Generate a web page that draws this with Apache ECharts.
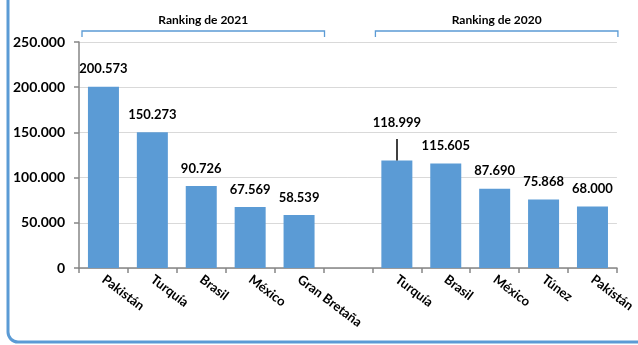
<!DOCTYPE html>
<html>
<head>
<meta charset="utf-8">
<script src="https://cdn.jsdelivr.net/npm/echarts@6/dist/echarts.min.js"></script>
<style>
  html, body { margin: 0; padding: 0; background: #fff; }
  #chart { width: 638px; height: 345px; }
</style>
</head>
<body>
<div id="chart"></div>
<script>
// Two rankings side by side, separated by an empty slot
const categories = ['Pakistán', 'Turquía', 'Brasil', 'México', 'Gran Bretaña', '',
                    'Turquía', 'Brasil', 'México', 'Túnez', 'Pakistán'];
const values = [200573, 150273, 90726, 67569, 58539, null,
                118999, 115605, 87690, 75868, 68000];
const groupTitles = ['Ranking de 2021', 'Ranking de 2020'];
// first/last category index covered by each bracket
const groupSpans = [[0, 4], [6, 10]];
const yTicks = { min: 0, max: 250000, interval: 50000 };
// leader line lifting the Turquía 2020 label
const leader = { index: 6, from: 118999, to: 142700 };

const FONT = 'Lato, "Open Sans", sans-serif';
const BLUE = '#5b9bd5';

function fmt(v) {
  return String(v).replace(/\B(?=(\d{3})+(?!\d))/g, '.');
}

const chart = echarts.init(document.getElementById('chart'));
const grid = { left: 79, right: 20, top: 42, bottom: 77 };

chart.setOption({
  animation: false,
  grid: grid,
  xAxis: {
    type: 'category',
    data: categories,
    axisLine: { lineStyle: { color: '#868686', width: 1.5 } },
    axisTick: { show: true, length: 5, lineStyle: { color: '#868686', width: 1.5 } },
    axisLabel: {
      rotate: -37,
      interval: 0,
      margin: 10,
      fontFamily: FONT,
      fontWeight: 'bold',
      fontSize: 13,
      color: '#000'
    }
  },
  yAxis: {
    type: 'value',
    min: yTicks.min,
    max: yTicks.max,
    interval: yTicks.interval,
    axisLine: { show: true, lineStyle: { color: '#868686', width: 1.5 } },
    axisTick: { show: true, length: 5, lineStyle: { color: '#868686', width: 1.5 } },
    splitLine: { lineStyle: { color: '#d9d9d9', width: 1 } },
    axisLabel: {
      margin: 14,
      fontFamily: FONT,
      fontWeight: 'bold',
      fontSize: 14,
      color: '#000',
      formatter: fmt
    }
  },
  series: [{
    type: 'bar',
    data: values.map((v, i) => ({
      value: v,
      label: i === leader.index ? { distance: 31 } : undefined
    })),
    barWidth: 31,
    itemStyle: { color: BLUE },
    label: {
      show: true,
      position: 'top',
      distance: 11,
      fontFamily: FONT,
      fontWeight: 'bold',
      fontSize: 13,
      color: '#000',
      formatter: p => fmt(p.value)
    },
    markLine: {
      silent: true,
      symbol: 'none',
      label: { show: false },
      lineStyle: { color: '#000', width: 1.5, type: 'solid' },
      data: [[
        { coord: [leader.index, leader.from] },
        { coord: [leader.index, leader.to] }
      ]]
    }
  }]
});

// Brackets over each ranking group plus the framed left border
function drawDecor() {
  const els = [];
  const half = chart.convertToPixel({ xAxisIndex: 0 }, 1) - chart.convertToPixel({ xAxisIndex: 0 }, 0);
  groupSpans.forEach((span, k) => {
    const x0 = chart.convertToPixel({ xAxisIndex: 0 }, span[0]) - half / 2 + 3;
    const x1 = chart.convertToPixel({ xAxisIndex: 0 }, span[1]) + half / 2 + 1;
    const y = 31;
    els.push({
      type: 'polyline',
      shape: { points: [[x0, y + 6], [x0, y], [x1, y], [x1, y + 6]] },
      style: { stroke: BLUE, lineWidth: 1.3, fill: null }
    });
    els.push({
      type: 'text',
      x: (x0 + x1) / 2,
      y: y - 5,
      style: {
        text: groupTitles[k],
        fontFamily: FONT,
        fontWeight: 'bold',
        fontSize: 12,
        fill: '#000',
        align: 'center',
        verticalAlign: 'bottom'
      }
    });
  });
  els.push({
    type: 'rect',
    shape: { x: 8, y: -30, width: 700, height: 372, r: 10 },
    style: { stroke: BLUE, lineWidth: 3, fill: null }
  });
  chart.setOption({ graphic: { elements: els } });
}
drawDecor();
</script>
</body>
</html>
